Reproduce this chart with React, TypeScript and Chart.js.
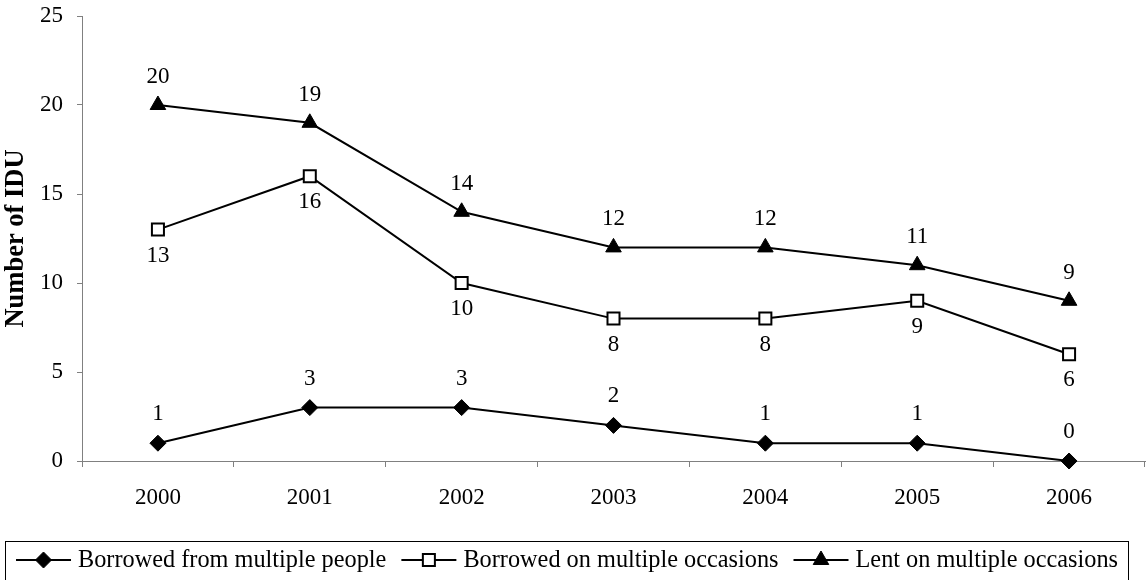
import React, { useEffect, useRef } from "react";
import { Chart, registerables } from "chart.js";
import { drawPoint } from "chart.js/helpers";

Chart.register(...registerables);

const years = ["2000", "2001", "2002", "2003", "2004", "2005", "2006"];
const borrowedPeople = [1, 3, 3, 2, 1, 1, 0];
const borrowedOccasions = [13, 16, 10, 8, 8, 9, 6];
const lentOccasions = [20, 19, 14, 12, 12, 11, 9];
const seriesNames = [
  "Borrowed from multiple people",
  "Borrowed on multiple occasions",
  "Lent on multiple occasions",
];
const yTicks = [0, 5, 10, 15, 20, 25];
const yTitle = "Number of IDU";

const FONT = "'Liberation Serif', 'Times New Roman', serif";
const AXIS = "#808080";

const dataLabelPlugin = {
  id: "dataLabels",
  afterDatasetsDraw(chart: any) {
    const ctx = chart.ctx;
    ctx.save();
    ctx.font = `23px ${FONT}`;
    ctx.fillStyle = "#000";
    ctx.textAlign = "center";
    ctx.textBaseline = "middle";
    chart.data.datasets.forEach((ds: any, i: number) => {
      const meta = chart.getDatasetMeta(i);
      meta.data.forEach((pt: any, j: number) => {
        ctx.fillText(String(ds.data[j]), pt.x, pt.y + ds.labelOffset);
      });
    });
    ctx.restore();
  },
};

const boxLegendPlugin = {
  id: "boxLegend",
  afterDraw(chart: any) {
    const ctx = chart.ctx;
    const boxLeft = 5.5;
    const boxRight = chart.width - 18.5;
    const boxTop = 541.5;
    const rowY = 560;
    const lineLen = 55;
    const gapText = 7;
    const gapItem = 15;
    ctx.save();
    ctx.font = `24.3px ${FONT}`;
    const items = chart.data.datasets.map((ds: any) => ({
      ds,
      w: lineLen + gapText + ctx.measureText(ds.label).width,
    }));
    const total =
      items.reduce((s: number, it: any) => s + it.w, 0) + gapItem * (items.length - 1);
    let x = (boxLeft + boxRight) / 2 - total / 2;

    ctx.strokeStyle = "#000";
    ctx.lineWidth = 1;
    ctx.strokeRect(boxLeft, boxTop, boxRight - boxLeft, chart.height + 5 - boxTop);

    items.forEach((it: any) => {
      const ds = it.ds;
      ctx.strokeStyle = "#000";
      ctx.lineWidth = 2;
      ctx.beginPath();
      ctx.moveTo(x, rowY);
      ctx.lineTo(x + lineLen, rowY);
      ctx.stroke();
      ctx.fillStyle = ds.pointBackgroundColor;
      ctx.strokeStyle = ds.pointBorderColor;
      ctx.lineWidth = ds.pointBorderWidth;
      drawPoint(
        ctx,
        {
          pointStyle: ds.pointStyle,
          radius: ds.pointRadius,
          rotation: 0,
          borderWidth: ds.pointBorderWidth,
        } as any,
        x + lineLen / 2,
        rowY
      );
      ctx.fillStyle = "#000";
      ctx.textAlign = "left";
      ctx.textBaseline = "middle";
      ctx.fillText(ds.label, x + lineLen + gapText, rowY + 1);
      x += it.w + gapItem;
    });
    ctx.restore();
  },
};

export default function App() {
  const canvasRef = useRef<HTMLCanvasElement | null>(null);

  useEffect(() => {
    document.body.style.margin = "0";
    const canvas = canvasRef.current;
    if (!canvas) return;
    const common = {
      borderColor: "#000",
      borderWidth: 2,
      tension: 0,
      fill: false,
      clip: false,
      pointBorderColor: "#000",
    };
    const chart = new Chart(canvas, {
      type: "line",
      data: {
        labels: years,
        datasets: [
          {
            ...common,
            label: seriesNames[0],
            data: borrowedPeople,
            pointStyle: "rectRot",
            pointRadius: 8,
            pointBackgroundColor: "#000",
            pointBorderWidth: 1,
            labelOffset: -29,
          } as any,
          {
            ...common,
            label: seriesNames[1],
            data: borrowedOccasions,
            pointStyle: "rect",
            pointRadius: 8.5,
            pointBackgroundColor: "#fff",
            pointBorderWidth: 2,
            labelOffset: 26,
          } as any,
          {
            ...common,
            label: seriesNames[2],
            data: lentOccasions,
            pointStyle: "triangle",
            pointRadius: 9,
            pointBackgroundColor: "#000",
            pointBorderWidth: 1,
            labelOffset: -28,
          } as any,
        ],
      },
      options: {
        responsive: false,
        animation: false,
        devicePixelRatio: 1,
        layout: { autoPadding: false, padding: { top: 16, right: 2, bottom: 74, left: 0 } },
        plugins: {
          legend: { display: false },
          tooltip: { enabled: false },
        },
        scales: {
          x: {
            offset: true,
            ticks: { color: "#000", font: { family: FONT, size: 23 }, padding: 17 },
            grid: {
              offset: true,
              drawOnChartArea: false,
              drawTicks: true,
              tickLength: 6,
              color: AXIS,
            },
            border: { color: AXIS, width: 1 },
            afterFit(scale: any) {
              scale.height = 45;
              scale.paddingLeft = 0;
              scale.paddingRight = 0;
            },
          },
          y: {
            min: 0,
            max: 25,
            afterBuildTicks(scale: any) {
              scale.ticks = yTicks.map((v) => ({ value: v }));
            },
            ticks: { color: "#000", font: { family: FONT, size: 23 }, padding: 14 },
            grid: {
              drawOnChartArea: false,
              drawTicks: true,
              tickLength: 5,
              color: AXIS,
            },
            border: { color: AXIS, width: 1 },
            title: {
              display: true,
              text: yTitle,
              color: "#000",
              font: { family: FONT, size: 26.5, weight: "bold" },
              padding: { top: 0, bottom: 0 },
            },
            afterFit(scale: any) {
              scale.width = 82;
              scale.paddingTop = 0;
              scale.paddingBottom = 0;
            },
          },
        },
      },
      plugins: [dataLabelPlugin, boxLegendPlugin],
    } as any);
    return () => chart.destroy();
  }, []);

  return (
    <div style={{ width: 1147, height: 580 }}>
      <canvas ref={canvasRef} width={1147} height={580} />
    </div>
  );
}
